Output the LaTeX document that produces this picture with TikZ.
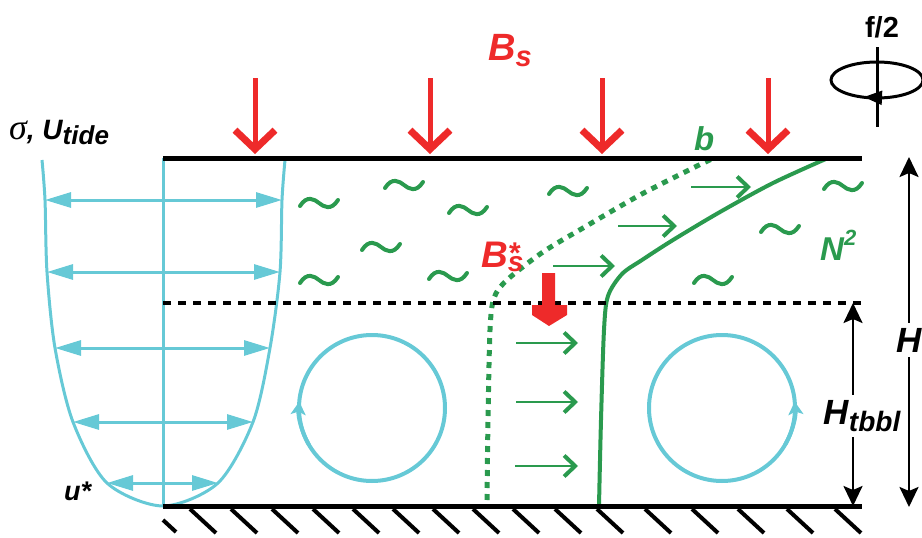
\documentclass[tikz,border=0pt]{standalone}
\usepackage{fontspec}
\setmainfont{Liberation Sans}
\newfontfamily\greekfont{Liberation Serif}
\usepackage{tikz}
\usetikzlibrary{arrows.meta,positioning}
\definecolor{tideCyan}{HTML}{66C9D6}
\definecolor{stratGreen}{HTML}{2A9A4E}
\definecolor{fluxRed}{HTML}{EE2A2A}
\newcommand{\lblsize}[1]{\fontsize{#1}{#1}\selectfont\bfseries\itshape}
\newcommand{\shifted}[3]{\raisebox{#1}{\fontsize{#2}{#2}\selectfont #3}}

\begin{document}
\begin{tikzpicture}[
  x=1pt,y=-1pt,
  bound/.style={line width=5pt},
  mixlayer/.style={line width=3.5pt,dash pattern=on 8pt off 7pt},
  hatch/.style={line width=4pt},
  profile/.style={draw=tideCyan,line width=3pt},
  tidearrow/.style={profile,{Triangle[length=26pt,width=15pt]}-{Triangle[length=26pt,width=15pt]}},
  cell/.style={draw=tideCyan,line width=4pt},
  flux/.style={draw=fluxRed,line width=5pt,-{Straight Barb[length=19pt,width=40pt,line width=7pt]}},
  shear/.style={draw=stratGreen,line width=2.8pt,-{Straight Barb[length=11pt,width=21pt,line width=4pt]}},
  wave/.pic={\draw[stratGreen,line width=4pt,line cap=round]
    (-19,3) .. controls (-12,-8) and (-5,-4) .. (0,0) .. controls (5,4) and (12,8) .. (19,-3);},
  dim/.style={line width=2.5pt,{Stealth[length=20pt,width=19pt,inset=4pt]}-{Stealth[length=20pt,width=19pt,inset=4pt]}},
  lbl/.style={inner sep=0pt,anchor=base west},
]
\useasboundingbox (0,0) rectangle (922,538);

\coordinate (sL) at (163,158); \coordinate (sR) at (862,158);
\coordinate (mL) at (163,303); \coordinate (mR) at (862,303);
\coordinate (bL) at (163,506); \coordinate (bR) at (862,506);

\draw[profile] (sL) -- (bL);
\draw[profile] plot[smooth] coordinates {(42,160) (45,200) (47,272) (55,348) (73,422) (107,483)
  (163,506) (218,483) (253,422) (270,348) (280,272) (282,200) (285,160)};
\foreach \yy/\xl/\xr in {200/45/282,272/47/280,348/55/270,422/73/253,483/107/218}
  \draw[tidearrow] (\xl,\yy) -- (\xr,\yy);

\foreach \wx/\wy in {319/203,404/185,468/210,381/247,319/280,448/276,568/191,713/280,780/229,843/186}
  \pic at (\wx,\wy) {wave};

\coordinate (lcell) at (372,408); \coordinate (rcell) at (722,408);
\draw[cell] (lcell) circle[radius=73];
\draw[cell,-{Stealth[length=13pt,width=15pt,inset=3pt]}] (lcell) ++(150:73) arc[start angle=150,end angle=185,radius=73];
\draw[cell] (rcell) circle[radius=73];
\draw[cell,-{Stealth[length=13pt,width=15pt,inset=3pt]}] (rcell) ++(30:73) arc[start angle=30,end angle=-5,radius=73];

\draw[stratGreen,line width=5pt,dash pattern=on 6pt off 6pt] plot[smooth] coordinates {(487,500) (488,420)
  (490,330) (494,298) (507,280) (543,252) (583,228) (640,195) (693,168) (714,158)};
\draw[stratGreen,line width=4pt] plot[smooth] coordinates {(599,506) (601,420) (604,330) (608,296)
  (622,274) (642,260) (673,240) (720,212) (773,183) (828,158)};
\foreach \xa/\xb/\yy in {516/578/343,516/578/402,515/578/466,553/615/266,618/677/226,691/751/187}
  \draw[shear] (\xa,\yy) -- (\xb,\yy);

\draw[bound] (sL) -- (sR);
\draw[mixlayer] (mL) -- (mR);
\draw[bound] (bL) -- (bR);
\foreach \hx in {190,231,272,313,353,393,433,473,513,555,597,645,692,738,787,835}
  \draw[hatch] (\hx,509) -- ++(26,24);
\draw[hatch] (163,520) -- (176,532);

\foreach \fx in {255,430,602,768}
  \draw[flux] (\fx,78) -- (\fx,154);
\fill[fluxRed] (542,273) -- (555,273) -- (555,305) -- (567,305) -- (567,315) -- (549,326)
  -- (532,315) -- (532,305) -- (542,305) -- cycle;

\coordinate (spin) at (877,80);
\draw[line width=3pt] (spin) ellipse[x radius=46,y radius=18];
\draw[line width=3pt] (877,47) -- (877,127);
\draw[line width=2pt,-{Triangle[length=18pt,width=14pt]}] (886,98) -- (864,97);
\node[inner sep=0pt,anchor=base] (fhalf) at (882,37) {\fontsize{29}{29}\selectfont\bfseries f/2};

\coordinate (Htop) at (909,157); \coordinate (Hbot) at (909,507);
\draw[dim] (Htop) -- node[pos=0.523,fill=white,inner sep=5pt] (Hlab) {\lblsize{35}H} (Hbot);
\coordinate (Ttop) at (853,303); \coordinate (Tbot) at (853,506);
\draw[dim] (Ttop) -- (Tbot);
\node[fill=white,inner sep=5pt] (Htbbl) at (862,416) {\lblsize{35}H\shifted{-7pt}{28}{tbbl}};

\node[lbl,text=fluxRed] (Bs) at (488,60) {\lblsize{38}B\shifted{-6pt}{29}{s}};
\node[lbl,text=fluxRed] (Bstar) at (481,267) {\lblsize{37}B\rlap{\shifted{-4pt}{28}{s}}\shifted{4pt}{30}{*}};
\node[lbl,text=stratGreen] (N2) at (820,260) {\lblsize{33}N\shifted{15pt}{22}{2}};
\node[lbl,text=stratGreen] (buoy) at (694,150) {\lblsize{33}b};
\node[lbl] (sig) at (9,139) {{\greekfont\itshape\fontsize{36}{36}\selectfont σ}\lblsize{28}, U\shifted{-5pt}{26}{tide}};
\node[lbl] (ustar) at (64,500) {\lblsize{27}u*};
\end{tikzpicture}
\end{document}
